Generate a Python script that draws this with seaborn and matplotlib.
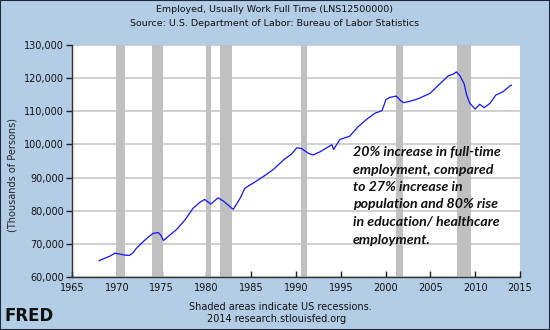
import matplotlib
matplotlib.use("Agg")
import matplotlib.pyplot as plt
import matplotlib.ticker as mticker
from matplotlib.patches import Rectangle
import pandas as pd
import seaborn as sns

# Full-time employment, thousands of persons
years = [1968.0, 1968.6, 1969.24, 1969.8, 1970.36, 1970.9, 1971.4, 1971.8, 1972.2, 1972.96,
         1973.5, 1974.07, 1974.6, 1974.9, 1975.2, 1975.94, 1976.7, 1977.6, 1978.5, 1979.2,
         1979.8, 1980.5, 1981.3, 1981.9, 1982.5, 1983.0, 1983.75, 1984.3, 1985.2, 1986.35,
         1987.5, 1988.6, 1989.5, 1990.1, 1990.6, 1991.4, 1991.9, 1992.7, 1993.8, 1994.0,
         1994.2, 1994.9, 1996.0, 1996.95, 1997.9, 1998.8, 1999.6, 2000.05, 2000.5, 2001.2,
         2001.6, 2002.0, 2002.7, 2003.65, 2004.95, 2006.1, 2007.0, 2007.55, 2007.9, 2008.3,
         2008.75, 2009.05, 2009.4, 2010.0, 2010.5, 2011.0, 2011.65, 2012.3, 2013.1, 2013.9,
         2014.05]
employed = [64900, 65600, 66300, 67200, 66900, 66600, 66500, 67300, 68700, 70700,
            72000, 73200, 73400, 72700, 71000, 72700, 74400, 77200, 80700, 82400,
            83400, 82000, 83900, 82900, 81500, 80400, 83700, 86800, 88300, 90300,
            92500, 95300, 97100, 99000, 98800, 97300, 96800, 97800, 99600, 99900,
            98500, 101500, 102500, 105400, 107600, 109400, 110200, 113600, 114200, 114600,
            113400, 112600, 113000, 113800, 115400, 118400, 120700, 121200, 121900, 120700,
            118400, 114900, 112400, 110700, 112100, 111100, 112400, 114900, 115900, 117700,
            117900]

# US recessions (start, end) in decimal years
recession_start = [1969.95, 1973.88, 1980.0, 1981.55, 1990.55, 2001.2, 2007.95]
recession_end = [1970.9, 1975.2, 1980.55, 1982.9, 1991.2, 2001.9, 2009.5]

x_ticks = list(range(1965, 2016, 5))
y_ticks = list(range(60000, 130001, 10000))

title_lines = ["Employed, Usually Work Full Time (LNS12500000)",
               "Source: U.S. Department of Labor: Bureau of Labor Statistics"]
note_text = ("20% increase in full-time\nemployment, compared\nto 27% increase in\n"
             "population and 80% rise\nin education/ healthcare\nemployment.")

df = pd.DataFrame({"year": years, "employed": employed})

sns.set_theme(style="white")
plt.rcParams["font.family"] = ["DejaVu Sans"]

bg = "#B4CDE6"
fig = plt.figure(figsize=(5.5, 3.3), dpi=100, facecolor=bg)
ax = fig.add_axes([72 / 550, 1 - 277 / 330, 448 / 550, 232 / 330])
ax.set_facecolor("white")

for s, e in zip(recession_start, recession_end):
    ax.axvspan(s, e, color="#C0C0C0", lw=0, zorder=1)

for v in y_ticks:
    ax.axhline(v, color="#CDCDCD", lw=1.3, zorder=0.5)

sns.lineplot(data=df, x="year", y="employed", ax=ax, color="#1414FF", lw=0.9, zorder=3)

ax.set_xlim(1965, 2015)
ax.set_ylim(60000, 130000)
ax.set_xticks(x_ticks)
ax.set_yticks(y_ticks)
ax.yaxis.set_major_formatter(mticker.StrMethodFormatter("{x:,.0f}"))
ax.tick_params(axis="x", direction="in", length=4, width=1, color="#222222",
               labelsize=7, pad=4, labelcolor="#111111")
ax.tick_params(axis="y", direction="out", length=4, width=1, color="#222222",
               labelsize=7, pad=2, labelcolor="#111111")
ax.xaxis.set_ticks_position("bottom")
ax.yaxis.set_ticks_position("left")
for side in ("top", "right"):
    ax.spines[side].set_visible(False)
for side in ("left", "bottom"):
    ax.spines[side].set_color("#333333")
    ax.spines[side].set_linewidth(1.0)
ax.set_xlabel("")
ax.set_ylabel("(Thousands of Persons)", fontsize=7, color="#222222")
ax.yaxis.set_label_coords(-0.122, 0.44)

ax.text((353 - 72) / 448, (277 - 146) / 232, note_text, transform=ax.transAxes,
        ha="left", va="top", fontsize=10.2, fontweight="bold", fontstyle="italic",
        family=["Lato", "DejaVu Sans"], color="#111111", linespacing=1.55, zorder=5)

fig.text(0.5, 1 - 10 / 330, title_lines[0], ha="center", va="center", fontsize=6.8, color="#111111")
fig.text(0.5, 1 - 23 / 330, title_lines[1], ha="center", va="center", fontsize=6.8, color="#111111")
fig.text(280 / 550, 1 - 307 / 330, "Shaded areas indicate US recessions.",
         ha="center", va="center", fontsize=7, color="#111111")
fig.text(277 / 550, 1 - 319 / 330, "2014 research.stlouisfed.org",
         ha="center", va="center", fontsize=7, color="#111111")
fig.text(5 / 550, 1 - 316 / 330, "FRED", ha="left", va="center", fontsize=12,
         fontweight="heavy", color="#111111")

fig.patches.append(Rectangle((0, 0), 1, 1, transform=fig.transFigure, fill=False,
                             edgecolor="#1C2A3A", lw=1.5))

fig.savefig("out.png", dpi=100, facecolor=bg)
